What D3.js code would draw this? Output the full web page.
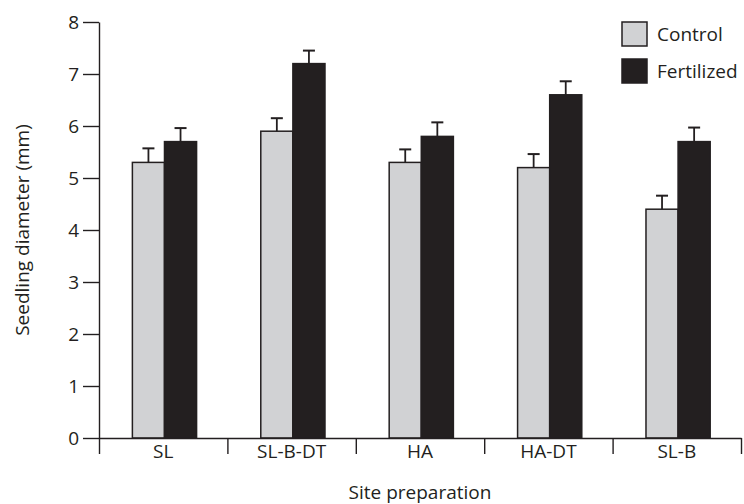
<!DOCTYPE html>
<html>
<head>
<meta charset="utf-8">
<script src="https://cdn.jsdelivr.net/npm/d3@7"></script>
<style>
  body { margin: 0; background: #fff; }
  text { font-family: "Open Sans", "Noto Sans", sans-serif; fill: #231f20; }
</style>
</head>
<body>
<svg id="chart"></svg>
<script>
const sites = ['SL', 'SL-B-DT', 'HA', 'HA-DT', 'SL-B'];
const groups = ['Control', 'Fertilized'];
const control = [5.3, 5.9, 5.3, 5.2, 4.4];
const fertilized = [5.7, 7.2, 5.8, 6.6, 5.7];
const controlErr = [0.27, 0.25, 0.25, 0.26, 0.26];
const fertilizedErr = [0.26, 0.25, 0.27, 0.26, 0.27];
const yTicks = [0, 1, 2, 3, 4, 5, 6, 7, 8];

const colors = { Control: '#d1d2d4', Fertilized: '#231f20' };
const ink = '#231f20';

class GroupedBarChart {

    constructor( config, data ){
        this.config = {
            parent: config.parent,
            width: config.width || 744,
            height: config.height || 504,
            margin: config.margin || {top:22, right:3, bottom:66, left:99},
            xlabel: config.xlabel || '',
            ylabel: config.ylabel || ''
        }
        this.data = data;
        this.init();
    }

    init(){
        let self = this;

        self.svg = d3.select( self.config.parent )
            .attr('width', self.config.width)
            .attr('height', self.config.height);

        self.chart = self.svg.append('g')
            .attr('transform', `translate(${self.config.margin.left}, ${self.config.margin.top})`);

        self.inner_width = self.config.width - self.config.margin.left - self.config.margin.right;
        self.inner_height = self.config.height - self.config.margin.top - self.config.margin.bottom;

        self.xscale = d3.scaleBand()
            .domain( sites )
            .range( [0, self.inner_width] )
            .paddingInner(0)
            .paddingOuter(0);

        self.xsub = d3.scaleBand()
            .domain( groups )
            .range( [self.xscale.bandwidth()*0.26, self.xscale.bandwidth()*0.76] );

        self.yscale = d3.scaleLinear()
            .domain( [0, 8] )
            .range( [self.inner_height, 0] );

        // boundary ticks between sites
        self.xbound = d3.scaleLinear()
            .domain( [0, sites.length] )
            .range( [0, self.inner_width] );

        self.xlabel_space = 61;
        self.svg.append('text')
            .attr('x', self.config.margin.left + self.inner_width/2)
            .attr('y', self.config.margin.top + self.inner_height + self.xlabel_space)
            .attr('text-anchor', 'middle')
            .style('font-size', '19px')
            .text( self.config.xlabel );

        self.svg.append('text')
            .attr('transform', `rotate(-90)`)
            .attr('x', -(self.config.margin.top + self.inner_height/2))
            .attr('y', 29)
            .attr('text-anchor', 'middle')
            .style('font-size', '19px')
            .text( self.config.ylabel );
    }

    render(){
        let self = this;

        const bars = self.chart.selectAll('.site')
            .data(self.data)
            .join('g')
            .attr('class', 'site')
            .attr('transform', d => `translate(${self.xscale(d.site)}, 0)`);

        bars.selectAll('rect')
            .data(d => d.values)
            .join('rect')
            .attr('x', d => self.xsub(d.group))
            .attr('y', d => self.yscale(d.value))
            .attr('width', self.xsub.bandwidth())
            .attr('height', d => self.yscale(0) - self.yscale(d.value))
            .attr('fill', d => colors[d.group])
            .attr('stroke', ink)
            .attr('stroke-width', 1.5);

        // error bars
        const cap = 6;
        bars.selectAll('.stem')
            .data(d => d.values)
            .join('line')
            .attr('class', 'stem')
            .attr('x1', d => self.xsub(d.group) + self.xsub.bandwidth()/2)
            .attr('x2', d => self.xsub(d.group) + self.xsub.bandwidth()/2)
            .attr('y1', d => self.yscale(d.value))
            .attr('y2', d => self.yscale(d.value + d.err))
            .attr('stroke', ink)
            .attr('stroke-width', 1.8);

        bars.selectAll('.cap')
            .data(d => d.values)
            .join('line')
            .attr('class', 'cap')
            .attr('x1', d => self.xsub(d.group) + self.xsub.bandwidth()/2 - cap)
            .attr('x2', d => self.xsub(d.group) + self.xsub.bandwidth()/2 + cap)
            .attr('y1', d => self.yscale(d.value + d.err))
            .attr('y2', d => self.yscale(d.value + d.err))
            .attr('stroke', ink)
            .attr('stroke-width', 2);

        // y axis
        const yaxis = self.chart.append('g')
            .call( d3.axisLeft(self.yscale).tickValues(yTicks).tickSize(16).tickSizeOuter(0).tickPadding(4) );
        yaxis.selectAll('text').style('font-size', '19px');

        // x axis boundary ticks
        self.chart.append('g')
            .attr('transform', `translate(0, ${self.inner_height})`)
            .call( d3.axisBottom(self.xbound).ticks(sites.length).tickSize(16).tickSizeOuter(0).tickFormat('') );

        // x axis labels
        const xlabels = self.chart.append('g')
            .attr('transform', `translate(0, ${self.inner_height})`)
            .call( d3.axisBottom(self.xscale).tickSize(0).tickPadding(6) );
        xlabels.select('.domain').remove();
        xlabels.selectAll('text').style('font-size', '19px');

        self.chart.selectAll('.domain, .tick line')
            .attr('stroke', ink)
            .attr('stroke-width', 1.4);

        // legend
        const legend = self.svg.append('g')
            .attr('transform', 'translate(622, 22)');
        const rows = legend.selectAll('g')
            .data(groups)
            .join('g')
            .attr('transform', (d, i) => `translate(0, ${i*37})`);
        rows.append('rect')
            .attr('width', 25)
            .attr('height', 24)
            .attr('fill', d => colors[d])
            .attr('stroke', ink)
            .attr('stroke-width', 1.5);
        rows.append('text')
            .attr('x', 35)
            .attr('y', 19)
            .style('font-size', '19px')
            .text(d => d);
    }
}

const data = sites.map((s, i) => ({
    site: s,
    values: [
        {group: 'Control', value: control[i], err: controlErr[i]},
        {group: 'Fertilized', value: fertilized[i], err: fertilizedErr[i]}
    ]
}));

const chart = new GroupedBarChart({
    parent: '#chart',
    xlabel: 'Site preparation',
    ylabel: 'Seedling diameter (mm)'
}, data);
chart.render();
</script>
</body>
</html>
